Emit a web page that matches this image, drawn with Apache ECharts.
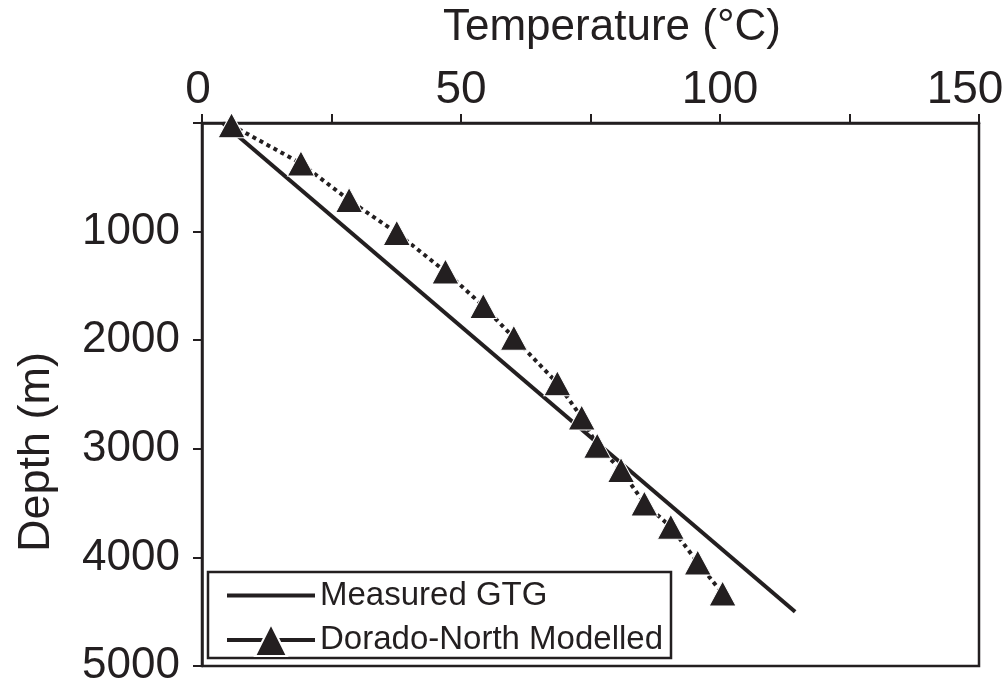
<!DOCTYPE html>
<html>
<head>
<meta charset="utf-8">
<script src="https://cdn.jsdelivr.net/npm/echarts@6/dist/echarts.min.js"></script>
<style>
html,body{margin:0;padding:0;background:#fff;}
#chart{width:1006px;height:688px;}
</style>
</head>
<body>
<div id="chart"></div>
<script>
// Data
const measuredTemp = [4, 114.5];
const measuredDepth = [0, 4500];
const modelTemp = [5.7, 19.1, 28.4, 37.6, 47.0, 54.3, 60.2, 68.6, 73.3, 76.3, 80.9, 85.4, 90.5, 95.7, 100.5];
const modelDepth = [20, 372, 710, 1012, 1368, 1685, 1977, 2396, 2712, 2971, 3195, 3503, 3718, 4047, 4333];
const seriesNames = ['Measured GTG', 'Dorado-North Modelled'];
const xTitle = 'Temperature (°C)';
const yTitle = 'Depth (m)';

const INK = '#231f20';
const FONT = "'Liberation Sans', Arial, sans-serif";

const chart = echarts.init(document.getElementById('chart'), null, {renderer: 'canvas'});
chart.setOption({
  backgroundColor: '#fff',
  animation: false,
  grid: {
    left: 202, right: 27, top: 123, bottom: 22,
    outerBoundsMode: 'none', containLabel: false,
    show: true, borderColor: INK, borderWidth: 2.5, backgroundColor: 'transparent'
  },
  graphic: [
    {type: 'text', left: 443, top: 6, style: {text: xTitle, font: '44px ' + FONT, fill: INK}},
    {type: 'text', x: 14, y: 552, rotation: Math.PI / 2, style: {text: yTitle, font: '45px ' + FONT, fill: INK, textVerticalAlign: 'top'}}
  ],
  xAxis: {
    type: 'value', position: 'top', min: 0, max: 150, interval: 25,
    axisLine: {show: true, lineStyle: {color: INK, width: 2.5}},
    axisTick: {show: true, inside: false, length: 9, lineStyle: {color: INK, width: 2}},
    splitLine: {show: false},
    axisLabel: {
      margin: 10, color: INK, fontFamily: FONT, fontSize: 46,
      formatter: v => {
        if (v % 50 !== 0) return '';
        if (v === 150) return '{r|' + v + '}';
        if (v === 0) return '{z|' + v + '}';
        return String(v);
      },
      rich: {
        r: {fontFamily: FONT, fontSize: 46, color: INK, padding: [0, 28, 0, 0]},
        z: {fontFamily: FONT, fontSize: 46, color: INK, padding: [0, 8, 0, 0]}
      }
    }
  },
  yAxis: {
    type: 'value', inverse: true, min: 0, max: 5000, interval: 1000,
    axisLine: {show: true, lineStyle: {color: INK, width: 2.5}},
    axisTick: {show: true, inside: false, length: 9, lineStyle: {color: INK, width: 2}},
    splitLine: {show: false},
    axisLabel: {
      margin: 22, color: INK, fontFamily: FONT, fontSize: 44,
      formatter: v => (v === 0 ? '' : String(v))
    }
  },
  legend: {
    orient: 'vertical', left: 208, top: 572,
    padding: [7, 8, 1, 17],
    borderColor: INK, borderWidth: 2.5, backgroundColor: '#fff',
    itemWidth: 88, itemHeight: 40, itemGap: 11,
    textStyle: {fontFamily: FONT, fontSize: 33, color: INK},
    data: [
      {name: seriesNames[0], lineStyle: {type: 'solid', width: 4, color: INK}, itemStyle: {opacity: 0}},
      {name: seriesNames[1], lineStyle: {type: 'solid', width: 4, color: INK}}
    ]
  },
  series: [
    {
      name: seriesNames[0], type: 'line',
      data: measuredTemp.map((t, i) => [t, measuredDepth[i]]),
      symbol: 'none',
      lineStyle: {color: INK, width: 4},
      itemStyle: {color: INK},
      z: 2
    },
    {
      name: seriesNames[1], type: 'line',
      data: modelTemp.map((t, i) => [t, modelDepth[i]]),
      symbol: 'triangle', symbolSize: [27, 25],
      lineStyle: {color: INK, width: 4, type: [4, 4]},
      itemStyle: {color: INK, borderColor: '#fff', borderWidth: 1},
      z: 3
    }
  ]
});
</script>
</body>
</html>
